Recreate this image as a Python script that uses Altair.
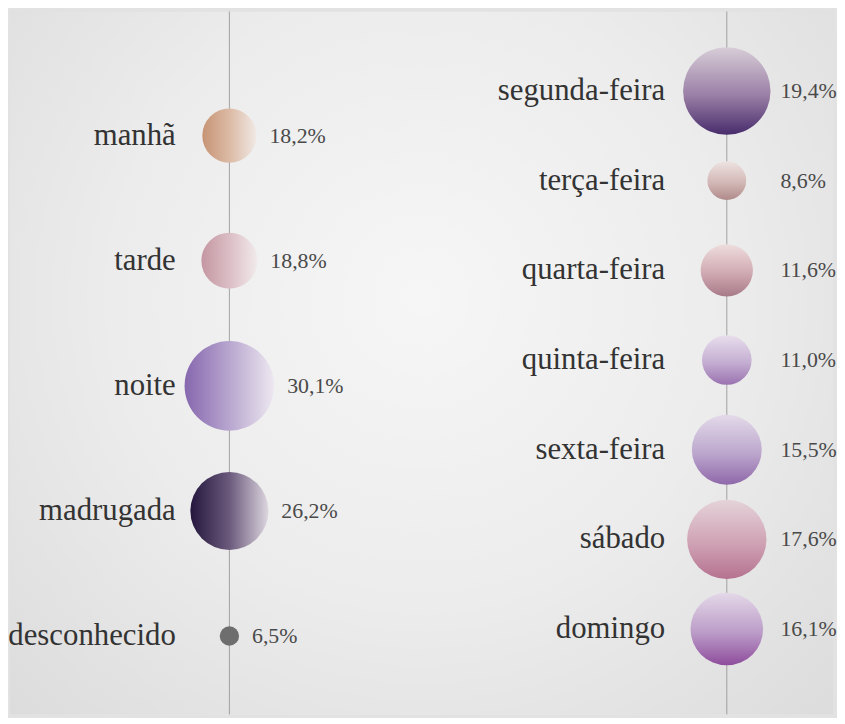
import altair as alt
import pandas as pd

# ---- data -------------------------------------------------------------
periodos = ["manhã", "tarde", "noite", "madrugada", "desconhecido"]
periodos_pct = [18.2, 18.8, 30.1, 26.2, 6.5]

dias = ["segunda-feira", "terça-feira", "quarta-feira", "quinta-feira",
        "sexta-feira", "sábado", "domingo"]
dias_pct = [19.4, 8.6, 11.6, 11.0, 15.5, 17.6, 16.1]

# ---- styles -----------------------------------------------------------
periodos_cores = [  # left (dark) -> mid -> right (light)
    ("#c69474", "#dcbaa5", "#f0e9e5"),
    ("#c496a2", "#dbbec5", "#f1eaec"),
    ("#8667ae", "#b8a6cf", "#ede8f0"),
    ("#24163d", "#6b5a7c", "#ddd6df"),
    ("#6e6e6e", "#6e6e6e", "#6e6e6e"),
]
dias_cores = [  # top (light) -> mid -> bottom (dark)
    ("#d8cdd8", "#9a7fa6", "#482c6c"),
    ("#ede3e1", "#d2b8b6", "#b08a8a"),
    ("#eedddd", "#d0aab2", "#a87a88"),
    ("#e8deec", "#c4aed2", "#9a72b0"),
    ("#e3dae9", "#bca7cd", "#8f68aa"),
    ("#e5d3d9", "#cfa2b4", "#b5728f"),
    ("#e4d8e8", "#bb9cc8", "#8e4c9c"),
]

W, H = 829, 708
FONT = "'Liberation Serif', 'DejaVu Serif', serif"


def hgrad(c):
    return {"gradient": "linear", "x1": 0, "y1": 0.5, "x2": 1, "y2": 0.5,
            "stops": [{"offset": 0, "color": c[0]},
                      {"offset": 0.5, "color": c[1]},
                      {"offset": 1, "color": c[2]}]}


def vgrad(c):
    return {"gradient": "linear", "x1": 0.5, "y1": 0, "x2": 0.5, "y2": 1,
            "stops": [{"offset": 0, "color": c[0]},
                      {"offset": 0.55, "color": c[1]},
                      {"offset": 1, "color": c[2]}]}


def painel(cats, vals, grads, line_x, k, label_dx, y_range, value_dx, value_at_edge):
    df = pd.DataFrame({"cat": cats, "pct": vals})
    xs = alt.Scale(domain=[-line_x / k, (W - line_x) / k], zero=False, nice=False)
    ys = alt.Scale(type="point", domain=cats, range=y_range, padding=0)
    vmax = max(vals)
    ss = alt.Scale(type="pow", exponent=2, domain=[0, vmax],
                   range=[0, 4 * (k * vmax) ** 2])
    x0 = alt.XDatum(0, type="quantitative", scale=xs, axis=None)
    y = alt.Y("cat:N", scale=ys, axis=None)

    rule = alt.Chart(pd.DataFrame({"x": [0]})).mark_rule(
        color="#8f8f8f", strokeWidth=1, opacity=0.8
    ).encode(x=alt.X("x:Q", scale=xs, axis=None), y=alt.value(0), y2=alt.value(H))

    circles = []
    for c, g in zip(cats, grads):
        circles.append(
            alt.Chart().mark_circle(fill=g, opacity=1, strokeWidth=0)
            .transform_filter(alt.FieldEqualPredicate(field="cat", equal=c))
            .encode(x=x0, y=y, size=alt.Size("pct:Q", scale=ss, legend=None))
        )

    labels = alt.Chart().mark_text(
        align="right", baseline="middle", dx=label_dx, font=FONT,
        fontSize=31, color="#333333"
    ).encode(x=x0, y=y, text="cat:N")

    if value_at_edge:
        vx = alt.X("pct:Q", scale=xs, axis=None)
    else:
        vx = x0
    values = alt.Chart().transform_calculate(
        rotulo="replace(format(datum.pct, '.1f'), '.', ',') + '%'"
    ).mark_text(
        align="left", baseline="middle", dx=value_dx, font=FONT,
        fontSize=22, color="#4a4a4a"
    ).encode(x=vx, y=y, text="rotulo:N")

    return alt.layer(rule, *circles, labels, values, data=df)


esquerda = painel(periodos, periodos_pct, [hgrad(c) for c in periodos_cores],
                  line_x=221, k=1.5, label_dx=-54, y_range=[125, 629],
                  value_dx=13, value_at_edge=True)
direita = painel(dias, dias_pct, [vgrad(c) for c in dias_cores],
                 line_x=722, k=2.27, label_dx=-62, y_range=[80, 622],
                 value_dx=54, value_at_edge=False)

bg_grad = {"gradient": "radial", "x1": 0.5, "y1": 0.42, "r1": 0,
           "x2": 0.5, "y2": 0.42, "r2": 0.75,
           "stops": [{"offset": 0, "color": "#f6f6f6"},
                     {"offset": 0.5, "color": "#ececec"},
                     {"offset": 1, "color": "#dadada"}]}
fundo = alt.Chart(pd.DataFrame({"a": [0]})).mark_rect(fill=bg_grad).encode(
    x=alt.value(0), x2=alt.value(W), y=alt.value(0), y2=alt.value(H)
)

chart = alt.layer(fundo, esquerda, direita).resolve_scale(
    x="independent", y="independent", size="independent"
).properties(
    width=W, height=H, padding=0, background="#e2e2e2"
).configure_view(stroke=None)

chart.save("out.html", embed_options={"renderer": "svg", "actions": False})
